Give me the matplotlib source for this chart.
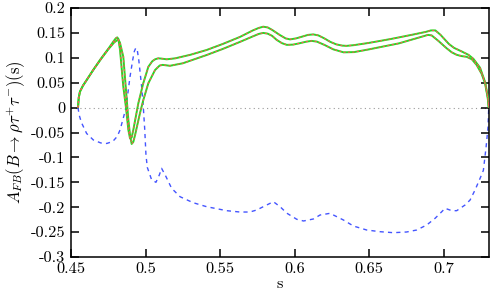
import matplotlib
matplotlib.use("Agg")
import matplotlib.pyplot as plt
import numpy as np

plt.rcParams['font.family'] = 'cmr10'
plt.rcParams['mathtext.fontset'] = 'cm'
plt.rcParams['axes.unicode_minus'] = False

# Upper A_FB curve
s_up = [0.4547, 0.4552, 0.456, 0.458, 0.460, 0.465, 0.470, 0.475, 0.4785, 0.4800, 0.4810, 0.4818,
        0.4829, 0.4851, 0.4869, 0.4885, 0.4896, 0.4907, 0.4918, 0.4935, 0.4952, 0.4985, 0.5019,
        0.5045, 0.5064, 0.5085, 0.5105, 0.5142, 0.520, 0.530, 0.541, 0.552, 0.5634, 0.572, 0.576,
        0.579, 0.582, 0.585, 0.590, 0.594, 0.597, 0.601, 0.6045, 0.609, 0.6126, 0.616, 0.620,
        0.624, 0.628, 0.632, 0.635, 0.640, 0.650, 0.665, 0.680, 0.688, 0.6915, 0.6945, 0.698,
        0.7035, 0.707, 0.712, 0.7167, 0.720, 0.7245, 0.728, 0.7297, 0.7303]
a_up = [0.0, 0.02, 0.032, 0.044, 0.053, 0.076, 0.098, 0.118, 0.133, 0.139, 0.141, 0.138,
        0.116, 0.042, 0.0, -0.045, -0.062, -0.060, -0.045, -0.018, 0.009, 0.049, 0.082,
        0.093, 0.097, 0.099, 0.0985, 0.097, 0.099, 0.106, 0.1157, 0.128, 0.142, 0.155, 0.160,
        0.1625, 0.161, 0.156, 0.146, 0.139, 0.137, 0.139, 0.142, 0.146, 0.147, 0.145, 0.139,
        0.132, 0.127, 0.1245, 0.124, 0.1255, 0.130, 0.138, 0.147, 0.152, 0.155, 0.155, 0.146,
        0.128, 0.120, 0.113, 0.106, 0.098, 0.080, 0.050, 0.02, 0.0]

# Lower A_FB curve
s_lo = [0.4547, 0.4552, 0.456, 0.458, 0.460, 0.465, 0.470, 0.475, 0.479, 0.4808, 0.4818, 0.4828,
        0.4851, 0.4869, 0.4885, 0.4896, 0.4907, 0.4918, 0.493, 0.4963, 0.4985, 0.5019, 0.5064,
        0.5095, 0.5115, 0.5164, 0.525, 0.541, 0.552, 0.5634, 0.572, 0.576, 0.579, 0.582, 0.585,
        0.588, 0.5915, 0.5948, 0.599, 0.603, 0.608, 0.6115, 0.615, 0.620, 0.626, 0.6329, 0.640,
        0.650, 0.670, 0.6855, 0.6895, 0.692, 0.6965, 0.7021, 0.7055, 0.7088, 0.712, 0.7155,
        0.719, 0.7222, 0.7255, 0.7278, 0.7296, 0.7303]
a_lo = [0.0, 0.02, 0.032, 0.044, 0.053, 0.076, 0.097, 0.117, 0.131, 0.135, 0.136, 0.131,
        0.102, 0.035, -0.025, -0.055, -0.073, -0.069, -0.055, -0.011, 0.015, 0.049, 0.0755,
        0.0845, 0.0858, 0.084, 0.089, 0.1056, 0.118, 0.132, 0.143, 0.148, 0.150, 0.1485, 0.144,
        0.136, 0.1295, 0.126, 0.1265, 0.129, 0.1325, 0.134, 0.1325, 0.126, 0.117, 0.111, 0.1115,
        0.117, 0.129, 0.1425, 0.146, 0.145, 0.134, 0.119, 0.111, 0.106, 0.1035, 0.102,
        0.097, 0.0855, 0.068, 0.049, 0.02, 0.0]

# Dashed blue curve
s_b = [0.4547, 0.4555, 0.457, 0.4605, 0.465, 0.470, 0.474, 0.478, 0.481, 0.4829, 0.4850, 0.4869,
       0.4896, 0.4914, 0.4925, 0.4935, 0.4945, 0.4955, 0.4974, 0.4985, 0.4995, 0.5003, 0.5012,
       0.5041, 0.507, 0.5093, 0.5108, 0.5138, 0.5175, 0.5232, 0.532, 0.541, 0.5545, 0.5634,
       0.570, 0.5746, 0.5813, 0.5858, 0.5903, 0.5948, 0.6015, 0.606, 0.6126, 0.6171, 0.6238,
       0.6328, 0.6395, 0.6484, 0.6574, 0.6663, 0.6752, 0.682, 0.6887, 0.6943, 0.6988, 0.701,
       0.7055, 0.7088, 0.7144, 0.7178, 0.7211, 0.7245, 0.7267, 0.7285, 0.7298, 0.7303]
a_b = [0.0, -0.015, -0.03, -0.052, -0.065, -0.071, -0.072, -0.068, -0.058, -0.045, -0.022, 0.0,
       0.062, 0.0956, 0.113, 0.120, 0.115, 0.095, 0.042, 0.002, -0.045, -0.095, -0.12,
       -0.145, -0.150, -0.135, -0.122, -0.139, -0.162, -0.179, -0.191, -0.199, -0.207, -0.2097,
       -0.2097, -0.2056, -0.1956, -0.189, -0.199, -0.212, -0.2243, -0.2277, -0.2237, -0.2157,
       -0.2123, -0.2257, -0.2378, -0.2458, -0.2492, -0.2512, -0.2498, -0.2458, -0.2357, -0.2223,
       -0.209, -0.2022, -0.207, -0.207, -0.1956, -0.1855, -0.1655, -0.142, -0.126, -0.08, -0.04, 0.0]

xticks = [0.45, 0.5, 0.55, 0.6, 0.65, 0.7]
xtick_labels = ['0.45', '0.5', '0.55', '0.6', '0.65', '0.7']
yticks = [-0.3, -0.25, -0.2, -0.15, -0.1, -0.05, 0.0, 0.05, 0.1, 0.15, 0.2]
ytick_labels = ['-0.3', '-0.25', '-0.2', '-0.15', '-0.1', '-0.05', '0', '0.05', '0.1', '0.15', '0.2']

fig = plt.figure(figsize=(4.91, 2.97), dpi=100)
ax = fig.add_axes([0.1446, 0.1347, 0.8514, 0.8383])

ax.axhline(0, color='#999999', lw=0.8, ls=(0, (1, 3)), zorder=1)

green = '#22dd22'
red = '#ff5555'
for s, a in [(s_up, a_up), (s_lo, a_lo)]:
    ax.plot(s, a, color=green, lw=1.4, zorder=3, solid_capstyle='butt', solid_joinstyle='round')
    ax.plot(s, a, color=red, lw=0.8, ls=(0, (2, 2)), zorder=4)
ax.plot(s_b, a_b, color='#4455ff', lw=1.0, ls=(0, (3, 3)), zorder=2)

ax.set_xlim(0.45, 0.7305)
ax.set_ylim(-0.3, 0.2)
ax.set_xticks(xticks)
ax.set_xticklabels(xtick_labels)
ax.set_yticks(yticks)
ax.set_yticklabels(ytick_labels)
ax.tick_params(direction='in', length=5.5, width=1.1, top=True, right=True, labelsize=11.8)
ax.tick_params(axis='x', pad=4)
ax.tick_params(axis='y', pad=4)
for sp in ax.spines.values():
    sp.set_linewidth(1.1)

ax.set_xlabel('s', fontsize=11.8, labelpad=1)
ax.set_ylabel(r'$A_{FB}(B\to\rho\tau^{+}\tau^{-})(\mathrm{s})$', fontsize=12, labelpad=3)

fig.savefig('out.png', dpi=100)
